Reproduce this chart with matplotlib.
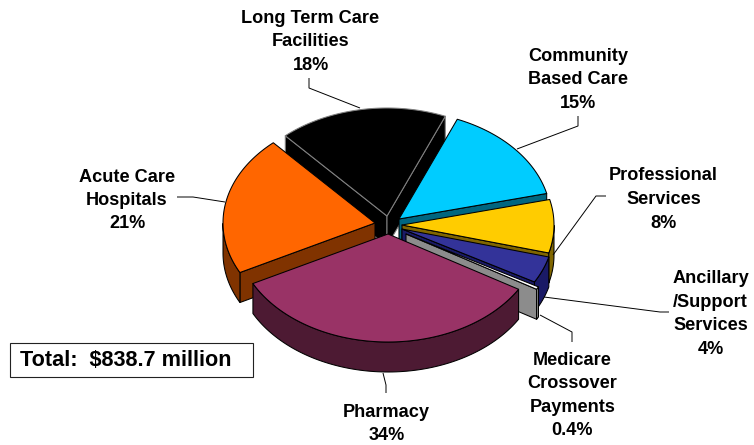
#!/usr/bin/env python3
import matplotlib
matplotlib.use("Agg")
import matplotlib.pyplot as plt
import numpy as np
from matplotlib.patches import Polygon, Rectangle

categories = [
    "Long Term Care\nFacilities",
    "Community\nBased Care",
    "Professional\nServices",
    "Ancillary\n/Support\nServices",
    "Medicare\nCrossover\nPayments",
    "Pharmacy",
    "Acute Care\nHospitals",
]
values = [18, 15, 8, 4, 0.4, 34, 21]
value_labels = ["18%", "15%", "8%", "4%", "0.4%", "34%", "21%"]
total_label = "Total:  $838.7 million"

top_colors = ["#000000", "#00CCFF", "#FFCC00", "#333399", "#FFFFFF", "#993366", "#FF6600"]
wall_colors = ["#000000", "#006680", "#806600", "#1A1A66", "#8C8C8C", "#4D1A33", "#803300"]
edge_colors = ["#808080", "#000000", "#000000", "#000000", "#000000", "#000000", "#000000"]

# exploded apex of each slice, in image pixels
apex = [(387, 216), (399, 219), (402, 225), (402, 229), (406, 234), (388, 234), (375, 223)]
label_pos = [(310.5, 42), (578, 80), (663.5, 199.5), (710.5, 314), (572.5, 395.5), (386.5, 424), (127, 200.5)]
leaders = [
    [(309, 78), (309, 88), (360, 108)],
    [(578, 116), (578, 126), (517, 149)],
    [(606, 196), (596, 196), (553, 255)],
    [(669, 312), (660, 312), (544, 297)],
    [(572, 342), (572, 332), (540, 315)],
    [(386, 393), (386, 385), (383, 373)],
    [(177, 197), (193, 197), (225, 202)],
]

RX = 152.0
RY = 108.0
DEPTH = 30.0
START_ANGLE = 132.0
LW = 0.75


def rim(center, theta):
    return np.column_stack([center[0] + RX * np.cos(theta), center[1] - RY * np.sin(theta)])


def cross(a, b):
    return a[0] * b[1] - a[1] * b[0]


def draw_slice(ax, center, a0, a1, top, wall, edge):
    # a0 > a1, angles run clockwise on screen
    theta = np.radians(np.linspace(a0, a1, 90))
    arc = rim(center, theta)
    down = np.array([0, DEPTH])
    c = np.array(center, dtype=float)
    mid = arc[len(arc) // 2]

    for p in (arc[0], arc[-1]):
        # skip a cut face that sits behind the slice's own top
        if cross(p - c, down) * cross(p - c, mid - c) > 0:
            continue
        face = [c, p, p + down, c + down]
        ax.add_patch(Polygon(face, closed=True, fc=wall, ec=edge, lw=LW, joinstyle="round"))

    low = np.sin(theta) < 0
    if low.any():
        part = arc[low]
        outer = np.vstack([part, (part + down)[::-1]])
        ax.add_patch(Polygon(outer, closed=True, fc=wall, ec=edge, lw=LW, joinstyle="round"))

    face = np.vstack([c, arc])
    ax.add_patch(Polygon(face, closed=True, fc=top, ec=edge, lw=LW, joinstyle="round"))


fig = plt.figure(figsize=(7.54, 4.45), dpi=100)
ax = fig.add_axes([0, 0, 1, 1])
ax.set_xlim(0, 754)
ax.set_ylim(445, 0)
ax.axis("off")

spans = np.array(values) / sum(values) * 360.0
ends = START_ANGLE - np.cumsum(spans)
starts = ends + spans

# back to front
for i in [0, 1, 2, 3, 4, 6, 5]:
    draw_slice(ax, apex[i], starts[i], ends[i], top_colors[i], wall_colors[i], edge_colors[i])

for line in leaders:
    xs, ys = zip(*line)
    ax.plot(xs, ys, color="#000000", lw=0.7, solid_capstyle="butt", zorder=5)

for name, pct, pos in zip(categories, value_labels, label_pos):
    ax.text(pos[0], pos[1], name + "\n" + pct, ha="center", va="center",
            fontsize=13.1, fontweight="bold", family="Liberation Sans",
            linespacing=1.5, zorder=6)

ax.add_patch(Rectangle((9.5, 342.5), 243, 34, fc="#FFFFFF", ec="#222222", lw=0.8, zorder=6))
ax.text(20, 361, total_label, ha="left", va="center", fontsize=15.6, fontweight="bold",
        family="Liberation Sans", zorder=7)

fig.savefig("out.png", dpi=100)
